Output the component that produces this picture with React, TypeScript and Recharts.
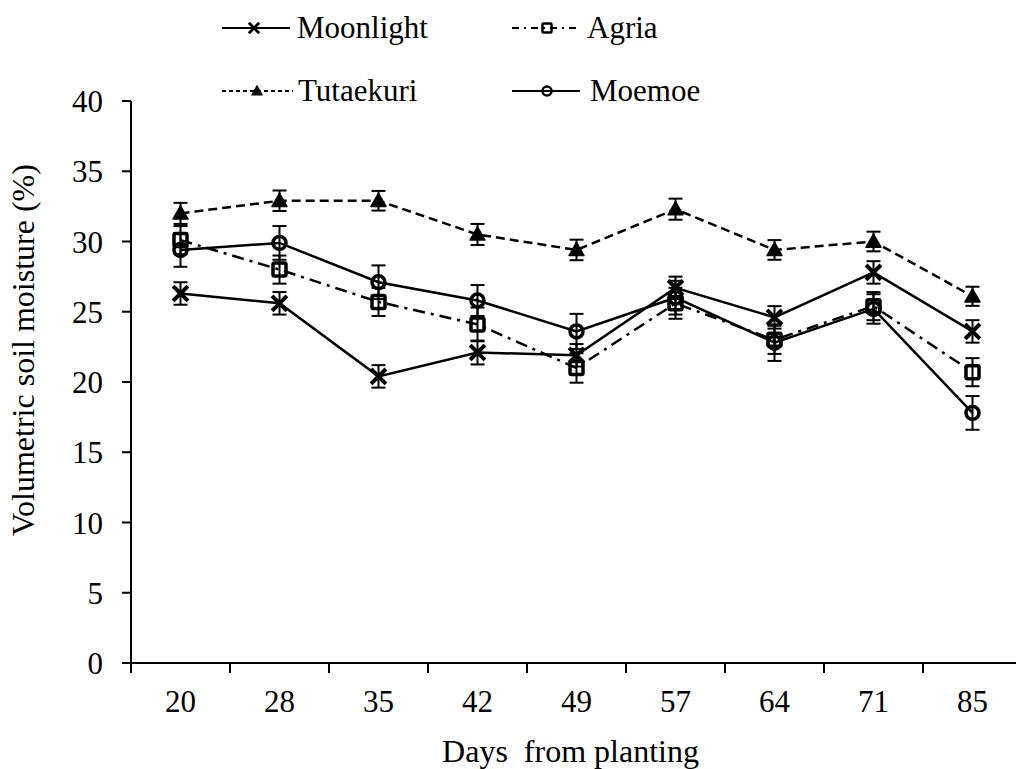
import { LineChart, Line, XAxis, YAxis, ErrorBar, Legend } from "recharts";

const DAYS = ["20", "28", "35", "42", "49", "57", "64", "71", "85"];

const MOONLIGHT = [26.3, 25.6, 20.4, 22.1, 21.9, 26.7, 24.6, 27.8, 23.6];
const MOONLIGHT_SE = [0.8, 0.8, 0.8, 0.85, 0.8, 0.8, 0.8, 0.8, 0.8];
const AGRIA = [30.1, 28.0, 25.7, 24.1, 21.0, 25.6, 23.0, 25.4, 20.7];
const AGRIA_SE = [1.0, 1.0, 1.0, 1.2, 1.05, 1.1, 1.0, 1.0, 1.0];
const TUTAEKURI = [32.0, 32.9, 32.9, 30.5, 29.4, 32.3, 29.4, 30.0, 26.1];
const TUTAEKURI_SE = [0.75, 0.73, 0.7, 0.75, 0.73, 0.75, 0.7, 0.7, 0.68];
const MOEMOE = [29.4, 29.9, 27.1, 25.8, 23.6, 26.0, 22.8, 25.2, 17.8];
const MOEMOE_SE = [1.2, 1.2, 1.2, 1.1, 1.25, 1.2, 1.3, 1.05, 1.2];

const Y_TICKS = [0, 5, 10, 15, 20, 25, 30, 35, 40];

const data = DAYS.map((day, i) => ({
  day,
  moonlight: MOONLIGHT[i],
  moonlightSe: MOONLIGHT_SE[i],
  agria: AGRIA[i],
  agriaSe: AGRIA_SE[i],
  tutaekuri: TUTAEKURI[i],
  tutaekuriSe: TUTAEKURI_SE[i],
  moemoe: MOEMOE[i],
  moemoeSe: MOEMOE_SE[i],
}));

const FONT = "'Liberation Serif', 'Times New Roman', serif";
const textStyle = { fontFamily: FONT };
const CHART_W = 1030;
const CHART_H = 769;
const MARGIN = { top: 101, right: 8, bottom: 0, left: 0 };
const Y_AXIS_W = 131;
const PLOT_W = CHART_W - MARGIN.left - MARGIN.right - Y_AXIS_W;
const BAND = PLOT_W / DAYS.length;

type MarkerType = "cross" | "square" | "triangle" | "circle";

function Marker({ type, cx, cy, s = 1 }: { type: MarkerType; cx: number; cy: number; s?: number }) {
  if (cx == null || cy == null) return null;
  if (type === "cross") {
    const h = 6 * s;
    return (
      <g stroke="#000" strokeWidth={4 * s} strokeLinecap="square">
        <line x1={cx - h} y1={cy - h} x2={cx + h} y2={cy + h} />
        <line x1={cx - h} y1={cy + h} x2={cx + h} y2={cy - h} />
      </g>
    );
  }
  if (type === "square") {
    const h = 6.5 * s;
    return <rect x={cx - h} y={cy - h} width={2 * h} height={2 * h} rx={1.5 * s} fill="none" stroke="#000" strokeWidth={3.5 * s} />;
  }
  if (type === "triangle") {
    const h = 7.5 * s;
    return <path d={`M${cx},${cy - h} L${cx + h},${cy + h * 0.75} L${cx - h},${cy + h * 0.75} Z`} fill="#000" stroke="#000" strokeWidth={1.5 * s} strokeLinejoin="round" />;
  }
  return <circle cx={cx} cy={cy} r={6.5 * s} fill="none" stroke="#000" strokeWidth={3.5 * s} />;
}

const dotOf = (type: MarkerType) => (p: any) => <Marker key={`${type}-${p.index}`} type={type} cx={p.cx} cy={p.cy} />;

const LEGEND_ITEMS: { name: string; type: MarkerType; dash?: string; x1: number; x2: number; mx: number; tx: number; y: number }[] = [
  { name: "Moonlight", type: "cross", x1: 222, x2: 290, mx: 254, tx: 297, y: 28 },
  { name: "Agria", type: "square", dash: "7 5 2 5", x1: 512, x2: 580, mx: 547, tx: 587, y: 28 },
  { name: "Tutaekuri", type: "triangle", dash: "4 3", x1: 222, x2: 293, mx: 257, tx: 298, y: 91 },
  { name: "Moemoe", type: "circle", x1: 512, x2: 580, mx: 547, tx: 590, y: 91 },
];

function renderLegend() {
  return (
    <svg width={1016} height={120}>
      {LEGEND_ITEMS.map((it) => (
        <g key={it.name}>
          <line x1={it.x1} x2={it.x2} y1={it.y} y2={it.y} stroke="#000" strokeWidth={2} strokeDasharray={it.dash} />
          <Marker type={it.type} cx={it.mx} cy={it.y} s={0.7} />
          <text x={it.tx} y={it.y + 10} fontSize={31} style={textStyle} fill="#000">
            {it.name}
          </text>
        </g>
      ))}
    </svg>
  );
}

function DayTick({ x, y, payload }: any) {
  const half = BAND / 2;
  return (
    <g>
      <line x1={x - half} x2={x - half} y1={y} y2={y + 10} stroke="#000" strokeWidth={2} />
      <text x={x} y={y + 49} textAnchor="middle" fontSize={31} style={textStyle} fill="#000">
        {payload.value}
      </text>
    </g>
  );
}

const renderYTitle = ({ viewBox }: any) => {
  const x = viewBox.x + 34;
  const y = viewBox.y + viewBox.height / 2 - 32;
  return (
    <text x={x} y={y} transform={`rotate(-90 ${x} ${y})`} textAnchor="middle" fontSize={32} style={textStyle} fill="#000">
      Volumetric soil moisture (%)
    </text>
  );
};

const renderXTitle = ({ viewBox }: any) => (
  <text x={viewBox.x + viewBox.width / 2 - 6} y={viewBox.y + 99} textAnchor="middle" fontSize={32} style={{ ...textStyle, whiteSpace: "pre" }} fill="#000">
    {"Days  from planting"}
  </text>
);

export default function App() {
  return (
    <div style={{ position: "absolute", left: 0, top: 0, width: 1016, height: 769, overflow: "hidden", background: "#fff", fontFamily: FONT }}>
      <LineChart width={CHART_W} height={CHART_H} data={data} margin={MARGIN}>
        <XAxis
          dataKey="day"
          type="category"
          scale="point"
          padding={{ left: BAND / 2, right: BAND / 2 }}
          height={CHART_H - MARGIN.top - 562}
          axisLine={{ stroke: "#000", strokeWidth: 2 }}
          tickLine={false}
          tickSize={0}
          tickMargin={0}
          tick={<DayTick />}
          interval={0}
          label={{ content: renderXTitle }}
        />
        <YAxis
          width={Y_AXIS_W}
          domain={[0, 40]}
          ticks={Y_TICKS}
          interval={0}
          axisLine={{ stroke: "#000", strokeWidth: 2 }}
          tickLine={{ stroke: "#000", strokeWidth: 2 }}
          tickSize={9}
          tickMargin={19}
          tick={{ fontSize: 31, fontFamily: FONT, fill: "#000", style: textStyle }}
          label={{ content: renderYTitle }}
        />
        <Legend content={renderLegend} layout="horizontal" verticalAlign="middle" align="center" wrapperStyle={{ top: 0, left: 0, width: 1016, height: 120 }} />
        <Line dataKey="tutaekuri" stroke="#000" strokeWidth={2.5} strokeDasharray="9 5" dot={dotOf("triangle")} isAnimationActive={false}>
          <ErrorBar dataKey="tutaekuriSe" direction="y" width={7} stroke="#000" strokeWidth={2} />
        </Line>
        <Line dataKey="agria" stroke="#000" strokeWidth={2.5} strokeDasharray="12 6 3 6" dot={dotOf("square")} isAnimationActive={false}>
          <ErrorBar dataKey="agriaSe" direction="y" width={7} stroke="#000" strokeWidth={2} />
        </Line>
        <Line dataKey="moemoe" stroke="#000" strokeWidth={2.5} dot={dotOf("circle")} isAnimationActive={false}>
          <ErrorBar dataKey="moemoeSe" direction="y" width={7} stroke="#000" strokeWidth={2} />
        </Line>
        <Line dataKey="moonlight" stroke="#000" strokeWidth={2.5} dot={dotOf("cross")} isAnimationActive={false}>
          <ErrorBar dataKey="moonlightSe" direction="y" width={7} stroke="#000" strokeWidth={2} />
        </Line>
      </LineChart>
    </div>
  );
}
